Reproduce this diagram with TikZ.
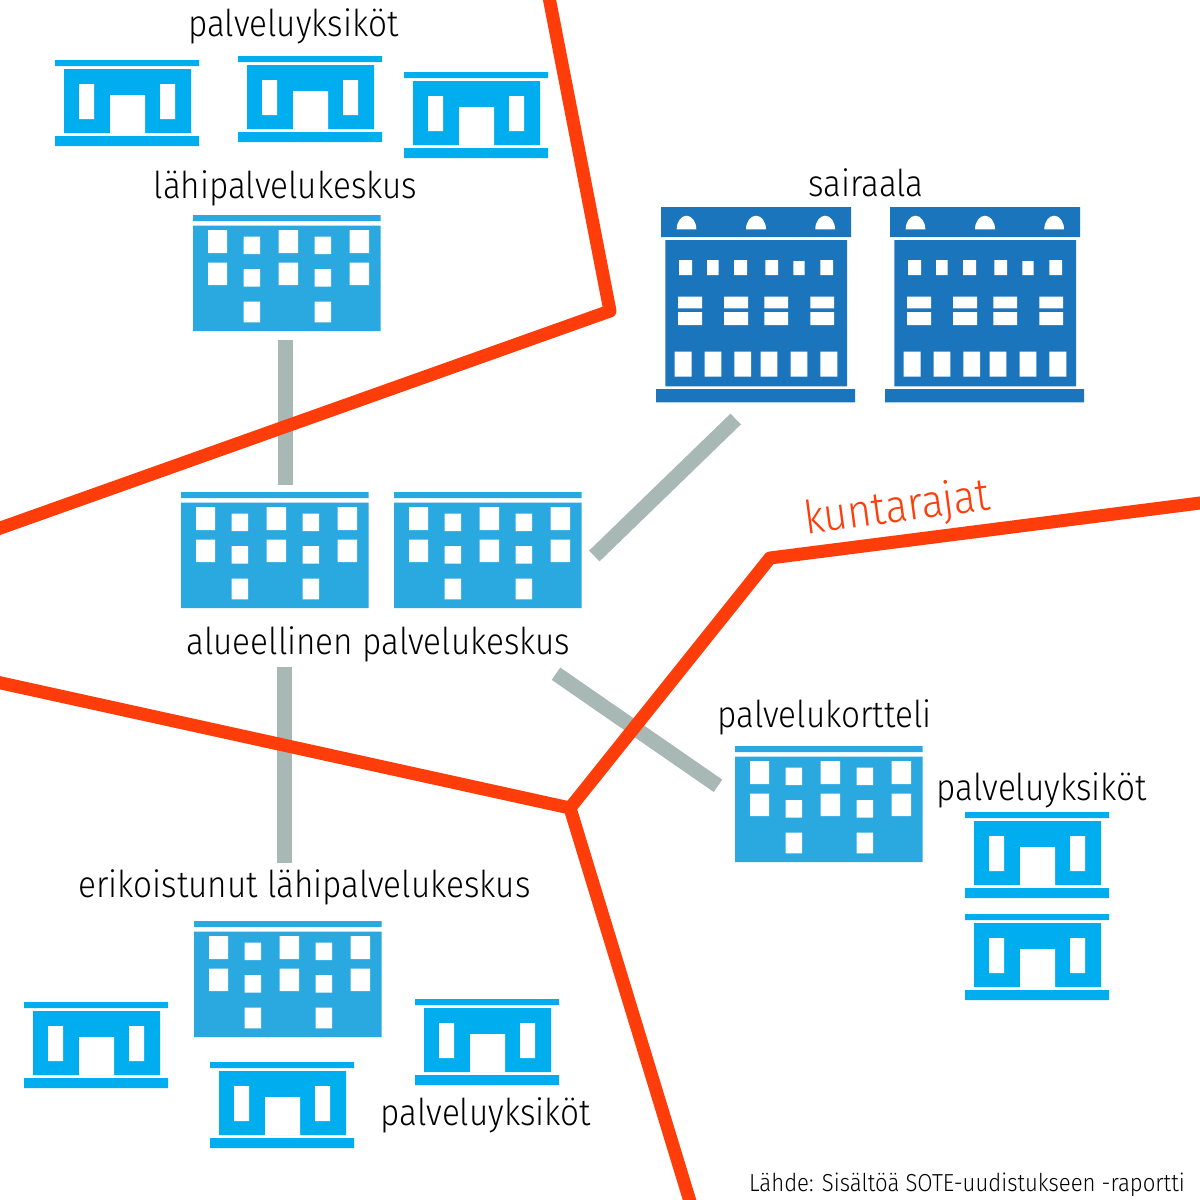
\documentclass[tikz,border=0pt]{standalone}
\usepackage{fontspec}
\setmainfont{Fira Sans Light}[FakeStretch=0.90]
\definecolor{smallblue}{HTML}{00AEEF}
\definecolor{midblue}{HTML}{29A9E0}
\definecolor{darkblue}{HTML}{1B75BC}
\definecolor{borderred}{HTML}{FF3D0A}
\definecolor{linkgrey}{HTML}{A7B8B5}
\tikzset{
  x=1pt,y=-1pt,
  border/.style={draw=borderred,line width=13pt,line join=round},
  link/.style={draw=linkgrey,line width=15pt},
  lab/.style={font=\fontsize{37}{37}\selectfont,text=black,inner sep=0pt,anchor=base},
  pics/unit/.style={code={
    \fill[smallblue] (0,0) rectangle (144,6) (0,76) rectangle (144,86) (9,9) rectangle (136,73);
    \fill[white] (24,24) rectangle (39,59) (105,24) rectangle (120,59) (55,35) rectangle (90,73.5);
  }},
  pics/centre/.style={code={
    \fill[midblue] (0,0) rectangle (187.5,6) (0,10.7) rectangle (187.5,116);
    \fill[white]
      (15,15) rectangle (34,38) (85.5,15) rectangle (105,38) (156.5,15) rectangle (176,38)
      (50.5,21.5) rectangle (67,39) (121.5,21.5) rectangle (138,39)
      (15,47.7) rectangle (34,70) (85.5,47.7) rectangle (105,70) (156.5,47.7) rectangle (176,70)
      (50.5,54) rectangle (67,71.7) (121.5,54) rectangle (138,71.7)
      (50.5,86.7) rectangle (67,107.3) (121.5,86.7) rectangle (138,107.3);
  }},
  pics/hospital/.style={code={
    \fill[darkblue] (5,0) rectangle (195,30) (9.3,33) rectangle (191,179.3) (0,182) rectangle (199,195.3);
    \fill[white]
      (20.7,22.3) arc[x radius=9.8,y radius=13.6,start angle=180,end angle=360] -- cycle
      (90,22.3) arc[x radius=10,y radius=13.6,start angle=180,end angle=360] -- cycle
      (159.3,22.3) arc[x radius=9.85,y radius=13.6,start angle=180,end angle=360] -- cycle
      (23,53) rectangle (36,68) (51,53) rectangle (62.7,68) (78,53) rectangle (91,68)
      (109.3,53) rectangle (122,68) (137.3,54) rectangle (148.7,68) (164.3,53) rectangle (177,68)
      (22,89.7) rectangle (46,101.3) (68,89.7) rectangle (92,101.3)
      (108.3,89.7) rectangle (132,101.3) (154.3,89.7) rectangle (178,101.3)
      (22,105) rectangle (46,118) (68,105) rectangle (92,118)
      (108.3,105) rectangle (132,118) (154.3,105) rectangle (178,118)
      (18.7,144.7) rectangle (35.7,169.7) (48.7,144.7) rectangle (65.3,169.7)
      (78.3,144.7) rectangle (95,169.7) (104.7,144.7) rectangle (121.3,169.7)
      (134.7,144.7) rectangle (151.3,169.7) (164.3,144.7) rectangle (181.3,169.7);
  }}
}
\begin{document}
\begin{tikzpicture}
\useasboundingbox (0,0) rectangle (1200,1200);
% connector ends
\coordinate (l1a) at (285,340); \coordinate (l1b) at (285,485);
\coordinate (l2a) at (284,667); \coordinate (l2b) at (284,863);
\coordinate (l3a) at (735.7,419); \coordinate (l3b) at (594.3,556);
\coordinate (l4a) at (556,673.7); \coordinate (l4b) at (718,785.8);
\draw[link] (l1a) -- (l1b);
\draw[link] (l2a) -- (l2b);
\draw[link] (l3a) -- (l3b);
\draw[link] (l4a) -- (l4b);
% municipal borders
\coordinate (r1) at (548,-8); \coordinate (r2) at (610,311); \coordinate (r3) at (-8,531);
\coordinate (r4) at (-8,681); \coordinate (r5) at (570,808); \coordinate (r6) at (770,558);
\coordinate (r7) at (1208,502); \coordinate (r8) at (692,1208);
\draw[border] (r1) -- (r2) -- (r3);
\draw[border] (r4) -- (r5) -- (r6) -- (r7);
\draw[border] (r5) -- (r8);
% buildings
\pic at (55,60) {unit};
\pic at (238,56) {unit};
\pic at (404,72) {unit};
\pic at (965,812) {unit};
\pic at (965,914) {unit};
\pic at (24,1002) {unit};
\pic at (415,999) {unit};
\pic at (210,1062) {unit};
\pic at (193,215) {centre};
\pic at (181,492) {centre};
\pic at (394,492) {centre};
\pic at (735,746) {centre};
\pic at (194,921) {centre};
\pic at (656,207) {hospital};
\pic at (885,207) {hospital};
% labels
\node[lab] (t1) at (293.5,36) {palveluyksiköt};
\node[lab] (t2) at (285.5,198) {lähipalvelukeskus};
\node[lab] (t3) at (866,196) {sairaala};
\node[lab] (t4) at (378.5,654) {alueellinen palvelukeskus};
\node[lab] (t5) at (824.5,727) {palvelukortteli};
\node[lab] (t6) at (1042,800) {palveluyksiköt};
\node[lab] (t7) at (304.5,897) {erikoistunut lähipalvelukeskus};
\node[lab] (t8) at (486,1125) {palveluyksiköt};
\node[lab,font=\fontsize{46}{46}\selectfont,text=borderred,rotate=7.5] (t9) at (899,522) {kuntarajat};
\node[font=\fontsize{24.6}{24.6}\selectfont,inner sep=0pt,anchor=base east] (t10) at (1185,1191) {Lähde: Sisältöä SOTE-uudistukseen -raportti};
\end{tikzpicture}
\end{document}
